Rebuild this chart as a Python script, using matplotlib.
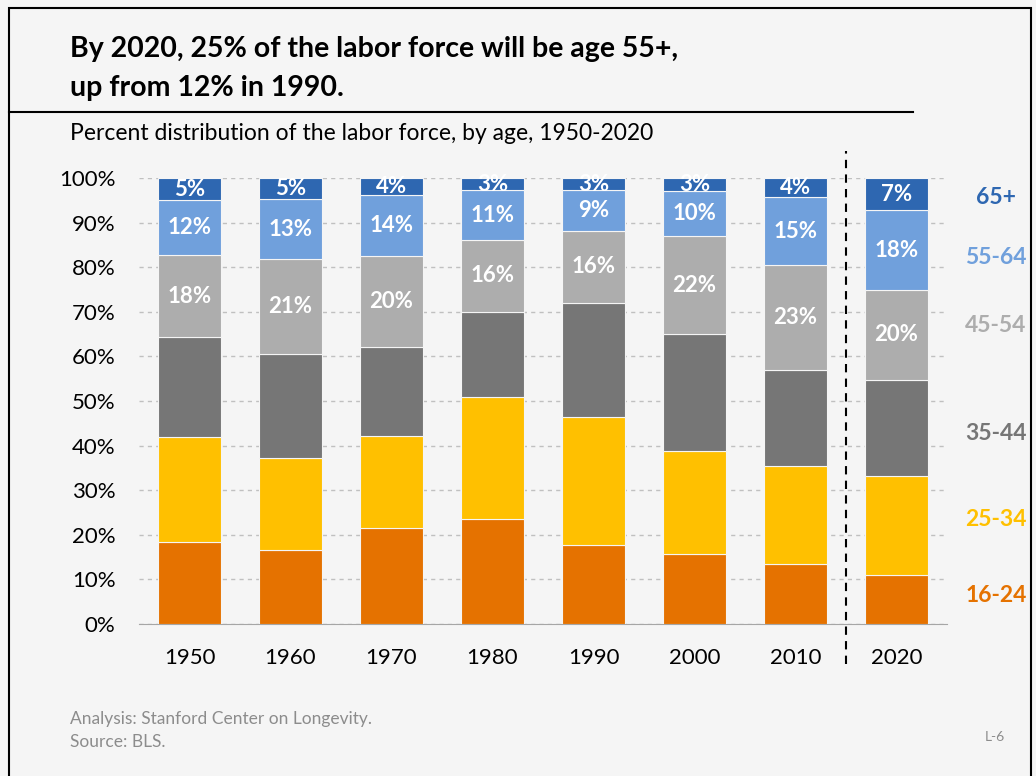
import numpy as np
import matplotlib.pyplot as plt
from matplotlib.patches import Rectangle
from matplotlib.lines import Line2D

plt.rcParams['font.family'] = ['Lato', 'DejaVu Sans']

years = ['1950', '1960', '1970', '1980', '1990', '2000', '2010', '2020']
groups = ['16-24', '25-34', '35-44', '45-54', '55-64', '65+']
colors = ['#E57200', '#FFC000', '#767676', '#ADADAD', '#70A0DC', '#2E67B1']

age_16_24 = [18.4, 16.6, 21.5, 23.5, 17.7, 15.7, 13.5, 11.0]
age_25_34 = [23.5, 20.6, 20.7, 27.4, 28.7, 23.1, 21.9, 22.2]
age_35_44 = [22.4, 23.3, 19.9, 19.1, 25.6, 26.2, 21.6, 21.5]
age_45_54 = [18.4, 21.3, 20.4, 16.1, 16.1, 22.0, 23.4, 20.2]
age_55_64 = [12.3, 13.4, 13.7, 11.2, 9.2, 10.1, 15.3, 17.9]
age_65_up = [5.0, 4.8, 3.8, 2.7, 2.7, 2.9, 4.3, 7.2]

series = [age_16_24, age_25_34, age_35_44, age_45_54, age_55_64, age_65_up]
labelled = [False, False, False, True, True, True]
legend_y = [595, 520, 433, 325, 258, 198]

fig = plt.figure(figsize=(10.36, 7.76), dpi=100)
fig.patch.set_facecolor('#F5F5F5')
W, H = 1036, 776

ax = fig.add_axes([139 / W, 1 - 624 / H, 808 / W, 446 / H])
ax.set_facecolor('#F5F5F5')

x = np.arange(len(years))
bottom = np.zeros(len(years))
for vals, col, lab in zip(series, colors, labelled):
    vals = np.array(vals)
    ax.bar(x, vals, 0.62, bottom=bottom, color=col, edgecolor='#F5F5F5',
           linewidth=0.8, zorder=3)
    if lab:
        for xi, b, v in zip(x, bottom, vals):
            ax.text(xi, b + v / 2, f'{v:.0f}%', ha='center', va='center',
                    color='white', fontsize=16, fontweight='bold', zorder=4)
    bottom += vals

ax.set_xlim(-0.5, len(years) - 0.5)
ax.set_ylim(0, 100)
ax.set_yticks(np.arange(0, 101, 10))
ax.set_yticklabels([f'{v}%' for v in range(0, 101, 10)])
ax.set_xticks(x)
ax.set_xticklabels(years)
ax.tick_params(axis='both', length=0, labelsize=16)
ax.tick_params(axis='x', pad=17)
ax.tick_params(axis='y', pad=17)
ax.grid(axis='y', color='#C0C0C0', linestyle=(0, (3, 3)), linewidth=1, zorder=0)
for s in ['left', 'right', 'top']:
    ax.spines[s].set_visible(False)
ax.spines['bottom'].set_color('#A6A6A6')

# projection separator
ax.plot([6.5, 6.5], [-9, 106], color='black', linestyle=(0, (4, 3)),
        linewidth=1.5, clip_on=False, zorder=5)

for g, col, yy in zip(groups, colors, legend_y):
    fig.text(996 / W, 1 - yy / H, g, ha='center', va='center', color=col,
             fontsize=16.5, fontweight='bold')

fig.text(70 / W, 1 - 49 / H, 'By 2020, 25% of the labor force will be age 55+,',
         fontsize=20.5, fontweight='bold', va='center')
fig.text(70 / W, 1 - 88 / H, 'up from 12% in 1990.',
         fontsize=20.5, fontweight='bold', va='center')
fig.text(70 / W, 1 - 133 / H, 'Percent distribution of the labor force, by age, 1950-2020',
         fontsize=16.5, va='center')

fig.text(70 / W, 1 - 719 / H, 'Analysis: Stanford Center on Longevity.',
         fontsize=12.5, color='#8C8C8C', va='center')
fig.text(70 / W, 1 - 742 / H, 'Source: BLS.',
         fontsize=12.5, color='#8C8C8C', va='center')
fig.text(995 / W, 1 - 737 / H, 'L-6', fontsize=10, color='#8C8C8C',
         ha='center', va='center')

# slide frame and title rule
fig.add_artist(Rectangle((9 / W, -0.01), 1022 / W, 1 - 8 / H + 0.01,
                         transform=fig.transFigure, fill=False,
                         edgecolor='black', linewidth=1.5))
fig.add_artist(Line2D([9 / W, 913 / W], [1 - 112 / H, 1 - 112 / H],
                      transform=fig.transFigure, color='black', linewidth=1.5))

fig.savefig('out.png', dpi=100, facecolor=fig.get_facecolor())
